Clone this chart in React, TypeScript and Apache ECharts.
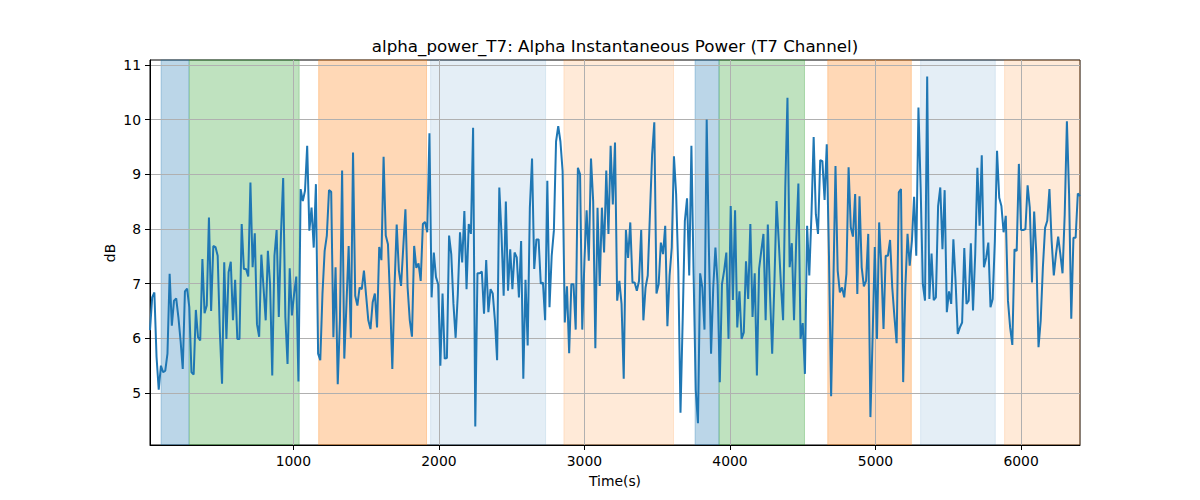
import React, { useEffect, useRef } from "react";
import * as echarts from "echarts";

const TITLE = "alpha_power_T7: Alpha Instantaneous Power (T7 Channel)";
const X_NAME = "Time(s)";
const Y_NAME = "dB";

// sampling grid of the series (seconds)
const T0 = 15;
const SAMPLE_INTERVAL = 15;

// alpha power in dB, one value per sample
const ALPHA_POWER = [
  6.15, 6.75, 6.84, 5.66, 5.06, 5.5, 5.38, 5.41, 5.72, 7.18, 6.23,
  6.69, 6.73, 6.39, 5.96, 5.44, 6.86, 6.91, 6.57, 5.38, 5.34,
  6.52, 6.02, 5.96, 7.45, 6.46, 6.6, 8.21, 6.5, 7.69, 7.67,
  7.51, 6.11, 5.17, 7.39, 5.99, 7.21, 7.4, 6.33, 7.07, 5.99,
  5.99, 8.09, 7.27, 7.27, 7.13, 8.85, 7.3, 7.92, 6.26, 6.03,
  7.53, 6.93, 6.33, 7.6,
  6.99, 5.32, 7.51, 7.98, 6.39, 7.91, 8.93, 6.39, 5.53, 7.28,
  6.42, 6.81, 7.13, 5.21, 8.73, 8.51, 8.7, 9.52, 7.97, 8.39,
  7.66, 8.82, 5.72, 5.6, 6.81, 7.6, 7.88, 8.71, 8.68, 6.02,
  7.3, 5.16, 6.33, 9.07, 5.63, 6.63, 7.69, 6.01, 9.4, 6.78,
  6.6, 6.93, 6.9, 7.24, 6.78, 6.33, 6.17, 6.66, 6.82, 6.2,
  7.67, 7.43, 9.32, 7.88, 7.72,
  6.69, 5.44, 6.93, 8.08, 7.24, 6.96, 7.66, 8.36, 6.93, 6.33,
  6.03, 7.69, 7.29, 7.37, 7.05, 8.09, 8.13, 7.94, 9.75, 6.75,
  7.57, 7.12, 6.99, 5.5, 6.82, 5.63, 5.64, 7.88, 7.54, 6.63,
  6.01, 6.81, 7.94, 7.39, 8.33, 6.9, 8.09, 7.91, 9.85, 4.39,
  7.19, 7.19, 7.22, 6.45, 7.43, 6.48, 6.9, 6.82, 6.33, 5.6,
  8.76, 7.91, 6.78, 8.5, 6.87, 7.63,
  6.9, 7.57, 7.48, 6.75, 7.78, 5.26, 7.07, 5.87, 8.39, 9.29,
  7.27, 7.81, 7.81, 7.0, 7.02, 6.33, 8.88, 6.57, 7.51, 7.97,
  9.6, 9.88, 9.6, 9.06, 6.29, 6.95, 5.73, 6.99, 6.99, 6.16,
  9.12, 9.0, 6.16, 7.42, 8.34, 7.42, 9.29, 8.51, 5.82, 8.39,
  6.96, 8.39, 7.57, 9.07, 7.91, 9.52, 8.45, 9.58, 6.69, 7.05,
  6.63, 5.26, 7.98, 7.47, 8.12,
  7.02, 7.02, 6.87, 7.05, 7.98, 6.33, 6.93, 7.15, 8.27, 9.36,
  9.95, 6.82, 6.99, 7.75, 7.54, 8.06, 6.22, 7.15, 7.66, 9.33,
  8.64, 7.24, 4.64, 6.33, 8.15, 8.56, 7.15, 9.52, 7.18, 5.05,
  4.45, 7.19, 6.93, 6.16, 10.0, 7.66, 5.72, 6.93, 7.66, 6.99,
  5.2, 6.99, 7.24, 7.57, 5.99, 8.42, 6.7, 8.34, 6.2, 6.86,
  5.99, 6.11, 7.41, 6.72, 8.09,
  6.39, 7.19, 5.32, 7.27, 7.6, 7.91, 6.33, 8.08, 6.81, 5.72,
  6.99, 8.51, 7.78, 6.99, 6.33, 8.76, 10.4, 7.3, 7.74, 6.33,
  7.78, 8.83, 5.99, 6.28, 5.35, 8.06, 7.15, 8.27, 9.68, 8.27,
  7.91, 9.26, 9.24, 8.53, 9.55, 7.54, 4.94, 6.93, 9.15, 7.24,
  6.84, 6.93, 6.75, 7.18, 9.13, 8.03, 7.86, 8.64, 6.81, 8.6,
  7.3, 6.95, 7.05, 7.91, 4.56,
  6.02, 7.67, 5.99, 8.12, 7.3, 6.17, 7.51, 7.51, 7.8, 6.93,
  6.39, 5.91, 8.67, 8.73, 5.2, 6.93, 7.91, 7.33, 7.78, 8.59,
  7.51, 10.22, 8.76, 6.99, 6.69, 10.79, 6.72, 7.55, 6.7, 6.75,
  8.42, 8.76, 7.63, 8.71, 6.48, 6.86, 6.63, 7.81, 7.05, 6.08,
  6.2, 6.29, 7.65, 6.63, 6.69, 7.74, 6.51, 7.54, 9.12, 8.06,
  9.35, 7.3, 7.47, 7.75, 6.57,
  6.72, 7.78, 9.43, 8.57, 8.42, 7.94, 8.24, 6.69, 6.2, 5.88,
  7.63, 7.6, 9.19, 7.98, 7.98, 8.0, 8.8, 8.39, 7.02, 8.32,
  7.54, 5.84, 6.33, 7.3, 8.02, 8.15, 8.73, 7.78, 7.15, 7.54,
  7.86, 7.54, 7.19, 8.27, 9.97, 8.64, 6.36, 7.84, 7.84, 8.65,
  8.6,
];

const X_TICKS = [1000, 2000, 3000, 4000, 5000, 6000];
const Y_TICKS = [5, 6, 7, 8, 9, 10, 11];
const Y_MIN = 4.05;
const Y_MAX = 11.09;

// shaded periods: start, end (s), kind
const SPAN_STARTS = [91, 285, 1174, 1943, 2859, 3760, 3925, 4672, 5310, 5887];
const SPAN_ENDS = [283, 1040, 1915, 2733, 3612, 3925, 4512, 5246, 5823, 6405];
const SPAN_KINDS = ["blue", "green", "orange", "lightblue", "lightorange", "blue", "green", "orange", "lightblue", "lightorange"];

const SPAN_COLORS: Record<string, string> = {
  blue: "rgba(31,119,180,0.3)",
  green: "rgba(44,160,44,0.3)",
  orange: "rgba(255,127,14,0.3)",
  lightblue: "rgba(31,119,180,0.12)",
  lightorange: "rgba(255,127,14,0.16)",
};

const FONT = "DejaVu Sans";

export default function App() {
  const ref = useRef<HTMLDivElement>(null);
  useEffect(() => {
    if (!ref.current) return;
    const chart = echarts.init(ref.current, null, { renderer: "svg" });
    const data = ALPHA_POWER.map((v, i) => [T0 + i * SAMPLE_INTERVAL, v]);
    const xMax = T0 + (ALPHA_POWER.length - 1) * SAMPLE_INTERVAL;
    const areas = SPAN_STARTS.map((s, i) => [
      {
        xAxis: s,
        itemStyle: {
          color: SPAN_COLORS[SPAN_KINDS[i]],
          borderColor: SPAN_COLORS[SPAN_KINDS[i]],
          borderWidth: 1,
        },
      },
      { xAxis: Math.min(SPAN_ENDS[i], xMax) },
    ]);
    chart.setOption({
      animation: false,
      textStyle: { fontFamily: FONT },
      grid: {
        left: 150,
        right: 120,
        top: 60,
        bottom: 55,
        show: true,
        borderColor: "#000",
        borderWidth: 1,
        backgroundColor: "transparent",
      },
      xAxis: {
        type: "value",
        min: T0,
        max: xMax,
        z: 3,
        axisLine: { show: true, onZero: false, lineStyle: { color: "#000", width: 1 } },
        axisTick: { show: true, customValues: X_TICKS, length: 5, lineStyle: { color: "#000", width: 1 } },
        axisLabel: {
          customValues: X_TICKS,
          color: "#000",
          fontSize: 13.9,
          margin: 9,
          fontFamily: FONT,
          formatter: (v: number) => String(v),
        },
        splitLine: { show: true, lineStyle: { color: "#b0b0b0", width: 1 } },
      },
      yAxis: {
        type: "value",
        min: Y_MIN,
        max: Y_MAX,
        z: 3,
        axisLine: { show: true, onZero: false, lineStyle: { color: "#000", width: 1 } },
        axisTick: { show: true, customValues: Y_TICKS, length: 5, lineStyle: { color: "#000", width: 1 } },
        axisLabel: {
          customValues: Y_TICKS,
          color: "#000",
          fontSize: 13.9,
          margin: 9,
          fontFamily: FONT,
          formatter: (v: number) => String(v),
        },
        splitLine: { show: true, lineStyle: { color: "#b0b0b0", width: 1 } },
      },
      graphic: [
        {
          type: "text",
          x: 615,
          y: 46,
          style: {
            text: TITLE,
            fill: "#000",
            font: `16.7px "${FONT}"`,
            align: "center",
            verticalAlign: "middle",
            textAlign: "center",
            textVerticalAlign: "middle",
          },
        },
        {
          type: "text",
          x: 615,
          y: 481,
          style: {
            text: X_NAME,
            fill: "#000",
            font: `13.9px "${FONT}"`,
            align: "center",
            verticalAlign: "middle",
            textAlign: "center",
            textVerticalAlign: "middle",
          },
        },
        {
          type: "text",
          x: 110,
          y: 253,
          rotation: Math.PI / 2,
          style: {
            text: Y_NAME,
            fill: "#000",
            font: `13.9px "${FONT}"`,
            align: "center",
            verticalAlign: "middle",
            textAlign: "center",
            textVerticalAlign: "middle",
          },
        },
      ],
      series: [
        {
          type: "line",
          data: [],
          z: 1,
          silent: true,
          markArea: { silent: true, data: areas },
        },
        {
          type: "line",
          data,
          z: 5,
          symbol: "none",
          showSymbol: false,
          lineStyle: { color: "#1f77b4", width: 2 },
          silent: true,
        },
      ],
    });
    return () => chart.dispose();
  }, []);
  return (
    <div
      ref={ref}
      style={{ position: "fixed", left: 0, top: 0, width: 1200, height: 500, background: "#fff" }}
    />
  );
}
